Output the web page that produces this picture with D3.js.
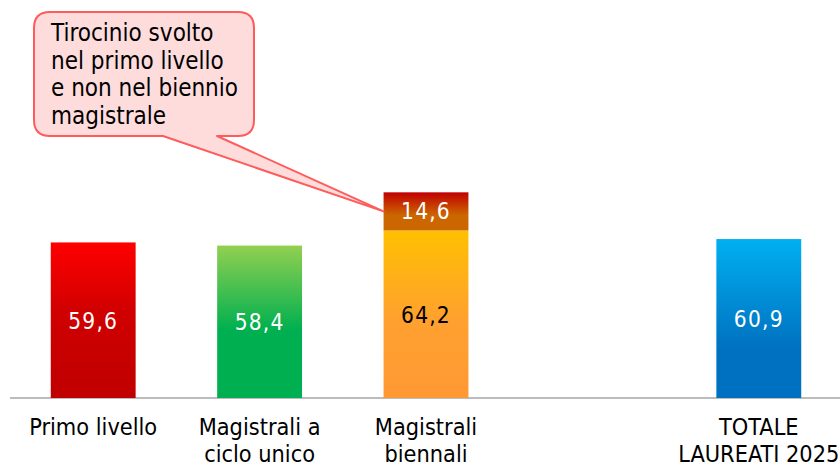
<!DOCTYPE html>
<html>
<head>
<meta charset="utf-8">
<script src="https://cdn.jsdelivr.net/npm/d3@7/dist/d3.min.js"></script>
<style>
  html, body { margin: 0; padding: 0; background: #fff; }
  svg { display: block; }
  text { font-family: "DejaVu Sans Condensed", "DejaVu Sans", sans-serif; font-stretch: condensed; }
</style>
</head>
<body>
<svg id="chart" width="840" height="466"></svg>
<script>
const categories = ["Primo livello", "Magistrali a|ciclo unico", "Magistrali|biennali", "", "TOTALE|LAUREATI 2025"];
const mainValues = [59.6, 58.4, 64.2, null, 60.9];
const extraValues = [null, null, 14.6, null, null];
const mainLabels = ["59,6", "58,4", "64,2", "", "60,9"];
const extraLabels = ["", "", "14,6", "", ""];
const calloutLines = ["Tirocinio svolto", "nel primo livello", "e non nel biennio", "magistrale"];

const gradients = [
  [["0%", "#ff0000"], ["45%", "#d00000"], ["100%", "#c00000"]],
  [["0%", "#92d050"], ["55%", "#00b050"], ["100%", "#00b050"]],
  [["0%", "#ffc000"], ["55%", "#ffa030"], ["100%", "#ff9933"]],
  null,
  [["0%", "#00b0f0"], ["70%", "#0070c0"], ["100%", "#0070c0"]]
];
const extraGradient = [["0%", "#c00000"], ["60%", "#cc6600"], ["100%", "#cc6600"]];
const labelColors = ["#fff", "#fff", "#000", "#fff", "#fff"];

const svg = d3.select("#chart");
const keys = categories.map((c, i) => i);
const x = d3.scaleBand().domain(keys).range([10, 842]).paddingInner(0.49).paddingOuter(0.245);
const y = d3.scaleLinear().domain([0, 100]).range([398, 137]);

const defs = svg.append("defs");
function addGrad(id, stops) {
  const g = defs.append("linearGradient").attr("id", id).attr("x1", 0).attr("y1", 0).attr("x2", 0).attr("y2", 1);
  stops.forEach(s => g.append("stop").attr("offset", s[0]).attr("stop-color", s[1]));
}
gradients.forEach((g, i) => { if (g) addGrad("g" + i, g); });
addGrad("gx", extraGradient);

// axis baseline
const axis = d3.axisBottom(x).tickSize(0).tickFormat("");
const ax = svg.append("g").attr("transform", `translate(0,${y(0)})`).call(axis);
ax.select(".domain").attr("stroke", "#a6a6a6").attr("stroke-width", 1.5).attr("d", `M10,0H840`);

// main bars
svg.selectAll("rect.main").data(keys.filter(i => mainValues[i] != null)).enter()
  .append("rect").attr("class", "main")
  .attr("x", i => x(i)).attr("width", x.bandwidth())
  .attr("y", i => y(mainValues[i])).attr("height", i => y(0) - y(mainValues[i]))
  .attr("fill", i => `url(#g${i})`);

// extra stacked bars
svg.selectAll("rect.extra").data(keys.filter(i => extraValues[i] != null)).enter()
  .append("rect").attr("class", "extra")
  .attr("x", i => x(i)).attr("width", x.bandwidth())
  .attr("y", i => y(mainValues[i] + extraValues[i])).attr("height", i => y(mainValues[i]) - y(mainValues[i] + extraValues[i]))
  .attr("fill", "url(#gx)");

// value labels
svg.selectAll("text.val").data(keys.filter(i => mainValues[i] != null)).enter()
  .append("text").attr("class", "val")
  .attr("x", i => x(i) + x.bandwidth() / 2)
  .attr("y", i => (y(0) + y(mainValues[i])) / 2)
  .attr("dy", "0.38em").attr("text-anchor", "middle")
  .attr("font-size", 22.5).attr("letter-spacing", 1.2)
  .attr("fill", i => labelColors[i]).text(i => mainLabels[i]);
svg.selectAll("text.xval").data(keys.filter(i => extraValues[i] != null)).enter()
  .append("text").attr("class", "xval")
  .attr("x", i => x(i) + x.bandwidth() / 2)
  .attr("y", i => (y(mainValues[i]) + y(mainValues[i] + extraValues[i])) / 2)
  .attr("dy", "0.36em").attr("text-anchor", "middle")
  .attr("font-size", 22.5).attr("letter-spacing", 1.2)
  .attr("fill", "#fff").text(i => extraLabels[i]);

// category labels
keys.forEach(i => {
  if (!categories[i]) return;
  const lines = categories[i].split("|");
  const t = svg.append("text").attr("text-anchor", "middle").attr("font-size", 23.3).attr("fill", "#000");
  lines.forEach((l, j) => t.append("tspan").attr("x", x(i) + x.bandwidth() / 2).attr("y", 435 + j * 26.5).text(l));
});

// callout
const ci = 2;
const tipX = x(ci), tipY = (y(mainValues[ci]) + y(mainValues[ci] + extraValues[ci])) / 2;
const bx = 34, by = 12, bw = 220, bh = 124, r = 16;
const p1 = 163, p2 = 217;
const path = d3.path();
path.moveTo(bx + r, by);
path.lineTo(bx + bw - r, by);
path.quadraticCurveTo(bx + bw, by, bx + bw, by + r);
path.lineTo(bx + bw, by + bh - r);
path.quadraticCurveTo(bx + bw, by + bh, bx + bw - r, by + bh);
path.lineTo(p2, by + bh);
path.lineTo(tipX, tipY);
path.lineTo(p1, by + bh);
path.lineTo(bx + r, by + bh);
path.quadraticCurveTo(bx, by + bh, bx, by + bh - r);
path.lineTo(bx, by + r);
path.quadraticCurveTo(bx, by, bx + r, by);
path.closePath();
svg.append("path").attr("d", path.toString()).attr("fill", "#ffdcdc").attr("stroke", "#ff5b5b").attr("stroke-width", 2).attr("stroke-linejoin", "round");
const ct = svg.append("text").attr("font-size", 24).attr("fill", "#000");
calloutLines.forEach((l, j) => ct.append("tspan").attr("x", 51).attr("y", 41 + j * 27.5).text(l));
</script>
</body>
</html>
